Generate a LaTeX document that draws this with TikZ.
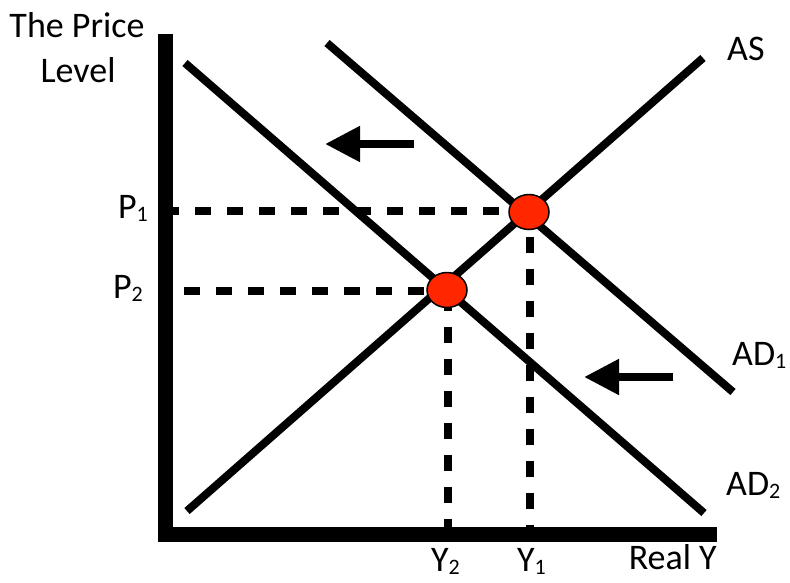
\documentclass[tikz,border=0pt]{standalone}
\usepackage{fontspec}
\setmainfont{Carlito}
\usetikzlibrary{shapes.geometric,arrows.meta}
\definecolor{eqred}{RGB}{255,38,0}
\newcommand\subsc[1]{\raisebox{-3.5pt}{\fontsize{22}{22}\selectfont #1}}
\begin{document}
\begin{tikzpicture}[x=1pt,y=-1pt,
  curve/.style={line width=8pt},
  axisline/.style={line width=15pt},
  dashline/.style={line width=8pt, dash pattern=on 16pt off 16pt},
  shiftarrow/.style={line width=8pt, -{Triangle[length=35pt,width=34pt]}},
  eq/.style={ellipse, draw=black, line width=1.5pt, fill=eqred, minimum width=40pt, minimum height=35pt, inner sep=0pt},
  lbl/.style={inner sep=0pt, font=\fontsize{36}{42}\selectfont}]
\useasboundingbox (0,0) rectangle (790,582);

% coordinates
\coordinate (yaxT) at (165.5,34);
\coordinate (yaxB) at (165.5,542);
\coordinate (xaxL) at (158,534.5);
\coordinate (xaxR) at (717,534.5);
\coordinate (asS) at (187,511);
\coordinate (asE) at (703,58);
\coordinate (ad1S) at (327,43);
\coordinate (ad1E) at (733,392);
\coordinate (ad2S) at (185,63);
\coordinate (ad2E) at (704,513);
\coordinate (p1L) at (163,211);
\coordinate (p1R) at (515,211);
\coordinate (p2L) at (184,291);
\coordinate (p2R) at (435,291);
\coordinate (y1T) at (530,237);
\coordinate (y1B) at (530,530);
\coordinate (y2T) at (448,295);
\coordinate (y2B) at (448,530);
\coordinate (a1T) at (414,144);
\coordinate (a1H) at (325,144);
\coordinate (a2T) at (673,377);
\coordinate (a2H) at (584,377);

% dashed guides
\draw[dashline] (p1L) -- (p1R);
\draw[dashline] (p2L) -- (p2R);
\draw[dashline] (y1T) -- (y1B);
\draw[dashline] (y2T) -- (y2B);

% curves
\draw[curve] (asS) -- (asE);
\draw[curve] (ad1S) -- (ad1E);
\draw[curve] (ad2S) -- (ad2E);

% axes
\draw[axisline] (yaxT) -- (yaxB);
\draw[axisline] (xaxL) -- (xaxR);

% equilibria
\node[eq] (E1) at (529,212) {};
\node[eq] (E2) at (447,290) {};

% shift arrows
\draw[shiftarrow] (a1T) -- (a1H);
\draw[shiftarrow] (a2T) -- (a2H);

% labels
\node[lbl, anchor=base] (tp1) at (77,37) {The Price};
\node[lbl, anchor=base] (tp2) at (78,82) {Level};
\node[lbl, anchor=base east] (P1) at (148,218) {P\subsc{1}};
\node[lbl, anchor=base east] (P2) at (143,298) {P\subsc{2}};
\node[lbl, anchor=base west] (AS) at (727,60) {AS};
\node[lbl, anchor=base west] (AD1) at (732,365) {AD\subsc{1}};
\node[lbl, anchor=base west] (AD2) at (726,495) {AD\subsc{2}};
\node[lbl, anchor=base west] (Y2) at (431,571) {Y\subsc{2}};
\node[lbl, anchor=base west] (Y1) at (517,571) {Y\subsc{1}};
\node[lbl, anchor=base east] (RY) at (717,569) {Real Y};
\end{tikzpicture}
\end{document}
